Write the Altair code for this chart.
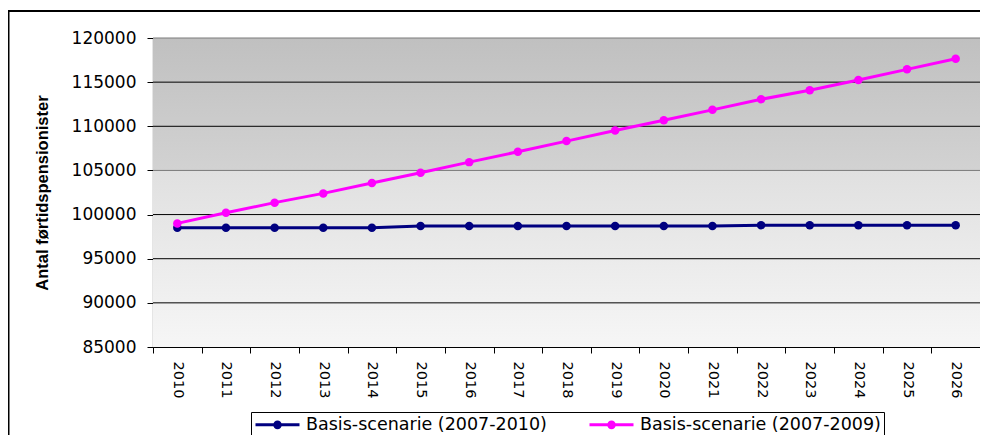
import altair as alt
import pandas as pd

years = [str(y) for y in range(2010, 2027)]
series_a = "Basis-scenarie (2007-2010)"
series_b = "Basis-scenarie (2007-2009)"
values_a = [98500, 98500, 98500, 98500, 98500, 98700, 98700, 98700, 98700, 98700,
            98700, 98700, 98800, 98800, 98800, 98800, 98800]
values_b = [99000, 100200, 101350, 102400, 103570, 104740, 105940, 107110, 108320,
            109520, 110690, 111860, 113060, 114080, 115250, 116450, 117650]
y_ticks = list(range(85000, 120001, 5000))

df = pd.DataFrame({
    "year": years * 2,
    "value": values_a + values_b,
    "series": [series_a] * len(years) + [series_b] * len(years),
})
grid_df = pd.DataFrame({"value": y_ticks[1:]})

W, H = 827, 309
FONT = "DejaVu Sans"
y_scale = alt.Scale(domain=[85000, 120000], nice=False, zero=False)
y_title = "Antal førtidspensionister"
y_axis = alt.Axis(values=y_ticks, format="d", title=y_title,
                  titleFont="Liberation Sans", titleFontSize=16.5,
                  titleFontWeight="bold", titleColor="black",
                  titleAngle=-90, titleX=-111, titleY=H / 2,
                  titleAlign="center", titleBaseline="middle",
                  labelFont=FONT, labelFontSize=17, labelColor="black",
                  labelPadding=11, tickSize=6, tickColor="black",
                  domainColor="black", domainWidth=1.2, grid=False)

bg = alt.Chart(pd.DataFrame({"a": [0]})).mark_rect(
    fill=alt.Gradient(
        gradient="linear",
        x1=0, x2=0, y1=0, y2=1,
        stops=[
            alt.GradientStop(offset=0, color="#c0c0c0"),
            alt.GradientStop(offset=0.428, color="#d2d2d2"),
            alt.GradientStop(offset=0.429, color="#e0e0e0"),
            alt.GradientStop(offset=1, color="#f6f6f6"),
        ],
    ),
).encode(x=alt.value(0), x2=alt.value(W), y=alt.value(0), y2=alt.value(H))

grid = alt.Chart(grid_df).mark_rule(strokeWidth=1).encode(
    y=alt.Y("value:Q", scale=y_scale, axis=y_axis, title=y_title),
    color=alt.condition("datum.value == 105000 || datum.value == 120000",
                        alt.value("#7a7a7a"), alt.value("black")),
)

frame = alt.Chart(pd.DataFrame({"a": [0]})).mark_rect(
    fill=None, stroke="black", strokeWidth=2
).encode(x=alt.value(-144.5), x2=alt.value(W + 200), y=alt.value(-27), y2=alt.value(H + 200))

# legend symbol: line with a dot, drawn mostly to the right of the symbol anchor
sym_path = ("M-1,0L4.5,0"
            "M2.1,0A0.35,0.35,0,1,1,1.4,0A0.35,0.35,0,1,1,2.1,0"
            "M1.92,0A0.17,0.17,0,1,1,1.58,0A0.17,0.17,0,1,1,1.92,0")

lines = alt.Chart(df).mark_line(
    strokeWidth=3,
    point=alt.OverlayMarkDef(filled=True, size=72, opacity=1),
).encode(
    x=alt.X("year:O", sort=years,
            scale=alt.Scale(paddingInner=0, paddingOuter=0),
            axis=alt.Axis(title=None, labelAngle=90, labelFont=FONT, labelFontSize=14.5,
                          labelColor="black", labelPadding=8, tickBand="extent",
                          tickSize=6, tickColor="black", domainColor="black",
                          domainWidth=1.2, grid=False)),
    y=alt.Y("value:Q", scale=y_scale, axis=y_axis, title=y_title),
    color=alt.Color("series:N",
                    scale=alt.Scale(domain=[series_a, series_b], range=["#000080", "#ff00ff"]),
                    legend=alt.Legend(title=None, orient="none", legendX=98, legendY=374,
                                      direction="horizontal", symbolType=sym_path,
                                      symbolSize=256, symbolStrokeWidth=3,
                                      labelFont=FONT, labelFontSize=17.5, labelColor="black",
                                      labelOffset=33, columnPadding=36, padding=3,
                                      strokeColor="black", fillColor="white",
                                      labelLimit=400)),
)

chart = alt.layer(bg, grid, lines, frame).properties(
    width=W, height=H,
    autosize=alt.AutoSizeParams(type="none"),
    padding={"left": 145, "top": 30, "right": 0, "bottom": 88},
).configure_view(stroke="#808080", strokeWidth=1.5).configure(background="white")

chart.save("out.html", embed_options={"renderer": "svg", "actions": False})
